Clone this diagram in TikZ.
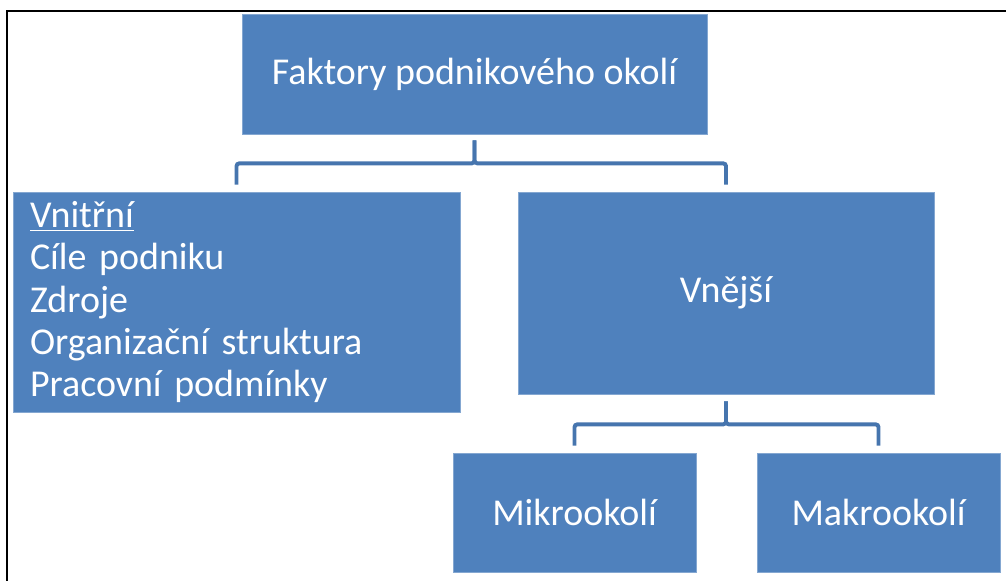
\documentclass[tikz,border=0pt]{standalone}
\usepackage{fontspec}
\setmainfont{Carlito}
\usepackage{xcolor}
\definecolor{boxblue}{HTML}{4F81BD}
\definecolor{lineblue}{HTML}{4675AE}

\begin{document}
\begin{tikzpicture}[
    box/.style={fill=boxblue, draw=boxblue!70!white, line width=0.5pt, text=white,
        inner sep=0pt, font=\fontsize{27pt}{29.9pt}\selectfont},
    spoj/.style={draw=lineblue, line width=2.8pt, rounded corners=2pt}
]
        \useasboundingbox (0,0) rectangle (25.15,-14.525);
        \draw[line width=1.4pt] (0.175,-14.6) -- (0.175,-0.275) -- (25.2,-0.275);

        \node[box, minimum width=11.625cm, minimum height=3cm] (faktory) at (11.8625,-1.85) {Faktory podnikového okolí};
        \node[box, minimum height=5.5cm, text width=10.325cm, inner xsep=0.425cm, align=left] (vnitrni) at (5.9125,-7.55)
            {\underline{Vnitřní}\\Cíle podniku\\Zdroje\\Organizační struktura\\Pracovní podmínky};
        \node[box, minimum width=10.4cm, minimum height=5.05cm] (vnejsi) at (18.15,-7.325) {Vnější};
        \node[box, minimum width=6.075cm, minimum height=2.975cm] (mikro) at (14.3625,-12.8125) {Mikrookolí};
        \node[box, minimum width=6.075cm, minimum height=2.975cm] (makro) at (21.9625,-12.8125) {Makrookolí};

        \draw[spoj, shorten <=0.15cm, shorten >=0.175cm] (faktory.south) -- ++(0,-0.725) -| (vnitrni.north);
        \draw[spoj, shorten <=0.15cm, shorten >=0.175cm] (faktory.south) -- ++(0,-0.725) -| (vnejsi.north);

        \draw[spoj, shorten <=0.175cm, shorten >=0.175cm] (vnejsi.south) -- ++(0,-0.75) -| (mikro.north);
        \draw[spoj, shorten <=0.175cm, shorten >=0.175cm] (vnejsi.south) -- ++(0,-0.75) -| (makro.north);
\end{tikzpicture}
\end{document}
